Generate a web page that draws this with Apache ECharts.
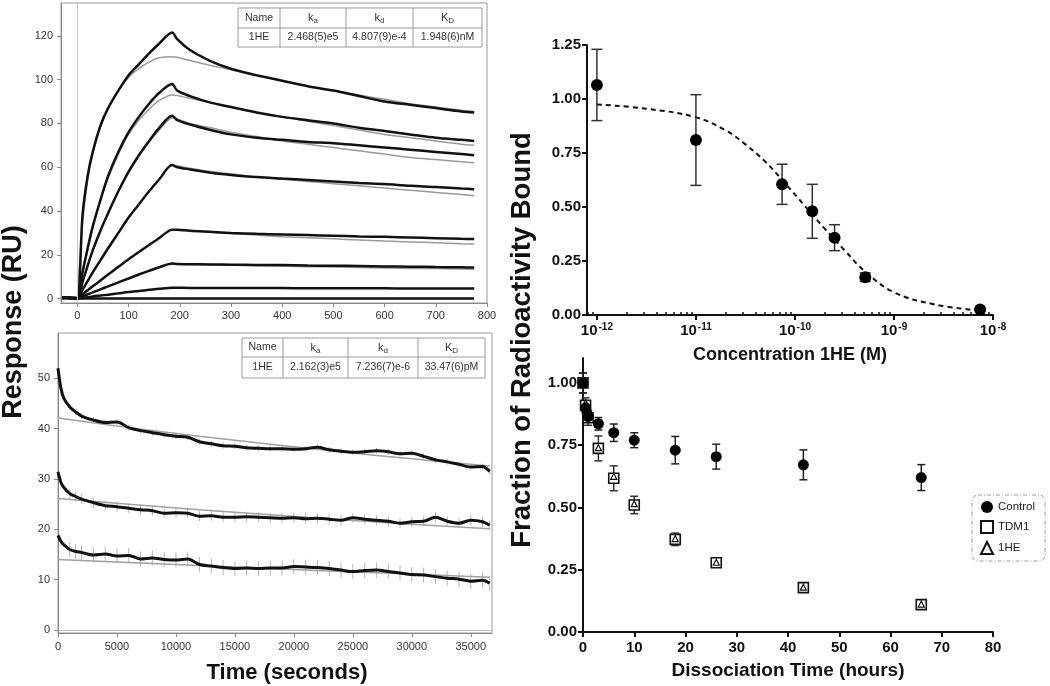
<!DOCTYPE html>
<html><head><meta charset="utf-8">
<script src="https://cdn.jsdelivr.net/npm/echarts@6/dist/echarts.min.js"></script>
<style>html,body{margin:0;padding:0;background:#fff}#c{width:1050px;height:686px}</style>
</head><body><div id="c"></div>
<script>
// ---------- Panel A: SPR sensorgrams (Response RU vs time s) ----------
const timeA = [-30,-10,0,10,20,30,45,60,80,100,120,140,160,185,195,220,260,300,350,400,450,500,550,600,650,700,750,775];
const respA1 = [0.5,0.3,0.2,38,56,67,79,87,95,102,107,112,116.5,121.5,118.5,113.5,108.5,105,102,99.5,97,95,92.5,90,88.5,87,85.5,85];
const respA2 = [0.5,0.3,0.2,12,23,33,45,56,67,76,83,89,94,98,95,92.5,89.5,87.5,85,83,81.5,80,78,76.5,75,73.5,72.5,72];
const respA3 = [0.5,0.3,0.2,7.5,15,22,31,39,49,58,65.5,72,78,83.5,81.5,79.5,77,75,73.5,72.5,71.5,71,70,69,68,67,66,65.5];
const respA4 = [0.4,0.3,0.2,4,8,12,17.5,23,30,37,43,49,54.5,61,60,59,57.5,56.5,55.5,54.8,54.2,53.5,52.8,52.3,51.5,51,50.3,50];
const respA5 = [0.3,0.3,0.2,2,3.8,5.6,8.3,11,14.5,18,21.3,24.5,27.7,31.5,31.5,31,30.5,30,29.6,29.3,29,28.7,28.4,28.2,27.9,27.6,27.3,27.2];
const respA6 = [0.3,0.2,0.1,1,2,2.9,4.2,5.6,7.4,9.2,11,12.7,14.3,16,15.8,15.7,15.6,15.5,15.4,15.3,15.1,15,14.9,14.7,14.6,14.4,14.3,14.2];
const respA7 = [0.3,0.2,0.1,0.3,0.6,1,1.4,1.8,2.4,3,3.5,4,4.5,5,5,4.9,4.9,4.8,4.8,4.8,4.7,4.7,4.7,4.7,4.6,4.6,4.6,4.6];
const respA8 = [0.3,0.2,0,0,0,0,0,0,0,0,0,0,0,0,0,0,0,0,0,0,0,0,0,0,0,0,0,0];
const fitA1 = [null,null,0,34,54,66,78,87,95,101,105,108,110,110.5,110.2,108.7,106.5,104.5,102,99.5,97,95,93,91,89,87.5,86,85.5];
const fitA2 = [null,null,0,11,22,32,45,55,66,75,81.5,86.5,90.5,93,92.7,91.5,89.5,87.5,85,83,81,79,77,75,73.5,72,70.5,70];
const fitA3 = [null,null,0,7.5,15,22,31,39,49,57.5,65,71.5,77,82.5,82,80,78,76,74,72,70.5,69,67.5,66,64.5,63.5,62.5,62];
const fitA4 = [null,null,0,4,8,12,17.5,23,30,37,43,49,54.5,61,60.7,59.5,58,57,55.5,54.5,53.5,52.5,51.5,50.5,49.5,48.5,47.5,47];
const fitA5 = [null,null,0,2,3.8,5.6,8.3,11,14.5,18,21.3,24.5,27.7,31.3,31.2,31,30.3,29.7,29,28.3,27.8,27.3,26.8,26.3,25.9,25.5,25.1,25];
const fitA6 = [null,null,0,1,2,2.9,4.2,5.6,7.4,9.2,11,12.7,14.3,15.8,15.7,15.6,15.4,15.2,15,14.8,14.6,14.4,14.2,14,13.8,13.7,13.5,13.4];
const ticksAx = [0,100,200,300,400,500,600,700,800];
const ticksAy = [0,20,40,60,80,100,120];
const tableAHead = ['Name','{i|k}{s|a}','{i|k}{s|d}','{i|K}{s|D}'];
const tableARow = ['1HE','2.468(5)e5','4.807(9)e-4','1.948(6)nM'];

// ---------- Panel B: long dissociation ----------
const timeB = [0,250,500,1000,1500,2000,3000,4000,5000,6000,7000,8000,9000,10000,11000,12000,13000,14000,15000,16000,17000,18000,19000,20000,21000,22000,23000,24000,25000,26000,27000,28000,29000,30000,31000,32000,33000,34000,35000,36000,36600];
const respB1 = [52,48,46,44.3,43.3,42.5,41.7,41.2,41.3,40.2,39.6,39.2,38.8,38.5,38.3,37.4,37,36.6,36.5,36.2,36.1,36,36,35.9,36,36.3,35.8,35.5,35.3,35.4,35.6,35.4,35,35.1,34.5,33.8,33.4,32.9,32.4,32.5,31.5];
const respB2 = [31.4,29.3,28.3,27.1,26.5,26,25.3,24.7,24.5,24.2,23.9,23.7,23.2,23.3,23.2,22.6,22.7,22.4,22.4,22.5,22.4,22.3,22.2,22.3,22.1,22.2,22,21.8,22.3,22,21.8,21.6,21.2,21.5,21.6,22.4,21.6,21.2,21.8,21.5,20.8];
const respB3 = [18.8,17.6,16.9,16,15.6,15.4,14.9,15.1,14.7,14.8,14.1,14.3,14,13.9,14.1,13,12.7,12.4,12.2,12.3,12.2,12.3,12.3,12.6,12.5,12.4,12.2,11.9,11.6,11.8,11.9,11.6,11.3,11,10.9,10.6,10.3,10.1,9.7,9.9,9.3];
const timeFitB = [0,6000,12000,18000,24000,30000,36600];
const fitB1 = [42.1,40.2,38.5,36.9,35.4,34.0,32.6];
const fitB2 = [26.1,25.0,23.9,22.9,21.9,21.0,20.1];
const fitB3 = [14.0,13.4,12.8,12.2,11.6,11.1,10.5];
const errB = [0.6,1.0,1.5];
const ticksBx = [0,5000,10000,15000,20000,25000,30000,35000];
const ticksBy = [0,10,20,30,40,50];
const tableBHead = ['Name','{i|k}{s|a}','{i|k}{s|d}','{i|K}{s|D}'];
const tableBRow = ['1HE','2.162(3)e5','7.236(7)e-6','33.47(6)pM'];

// ---------- Panel C: competition binding ----------
const logConcC = [-12,-11,-10.13,-9.825,-9.6,-9.29,-8.13];
const boundC = [1.065,0.81,0.605,0.48,0.358,0.175,0.026];
const semC = [0.165,0.21,0.093,0.125,0.06,0.02,0];
const fitLogConcC = [-12,-11.5,-11,-10.7,-10.5,-10.3,-10.1,-9.9,-9.7,-9.5,-9.3,-9,-8.6,-8.13];
const fitBoundC = [0.975,0.955,0.915,0.855,0.79,0.71,0.61,0.505,0.40,0.30,0.205,0.105,0.05,0.02];
const ticksCx = [-12,-11,-10,-9,-8];
const ticksCy = [0,0.25,0.5,0.75,1,1.25];

// ---------- Panel D: dissociation over hours ----------
const timeD = [0,0.5,1,3,6,10,18,26,43,66];
const controlD = [1.00,0.90,0.865,0.836,0.80,0.77,0.73,0.704,0.671,0.62];
const controlErrD = [0.04,0.02,0.02,0.025,0.035,0.03,0.055,0.05,0.06,0.052];
const tdm1D = [1.00,0.91,0.86,0.737,0.617,0.51,0.372,0.278,0.178,0.11];
const tdm1ErrD = [0.04,0.03,0.03,0.05,0.05,0.035,0.025,0.012,0.012,0.01];
const he1D = [1.00,0.92,0.87,0.74,0.625,0.515,0.375,0.28,0.18,0.112];
const he1ErrD = [0.03,0.03,0.03,0.04,0.045,0.03,0.02,0.01,0.01,0.01];
const ticksDx = [0,10,20,30,40,50,60,70,80];
const ticksDy = [0,0.25,0.5,0.75,1];
const legendD = ['Control','TDM1','1HE'];

// ---------- build ----------
const FONT = 'Liberation Sans, Arial, sans-serif';
const zip = (xs, ys) => xs.map((x, i) => [x, ys[i]]);

function errBar(xi, yi, rows, color, cap, lw, z) {
  return {
    type: 'custom', xAxisIndex: xi, yAxisIndex: yi, silent: true, z: z,
    encode: {x: 0, y: [1, 2]}, data: rows,
    renderItem(params, api) {
      const x = api.value(0), lo = api.value(1), hi = api.value(2);
      const a = api.coord([x, lo]), b = api.coord([x, hi]);
      const st = {stroke: color, lineWidth: lw, fill: null};
      const ch = [{type: 'line', shape: {x1: a[0], y1: a[1], x2: b[0], y2: b[1]}, style: st}];
      if (cap > 0) {
        ch.push({type: 'line', shape: {x1: a[0]-cap/2, y1: a[1], x2: a[0]+cap/2, y2: a[1]}, style: st});
        ch.push({type: 'line', shape: {x1: b[0]-cap/2, y1: b[1], x2: b[0]+cap/2, y2: b[1]}, style: st});
      }
      return {type: 'group', children: ch};
    }
  };
}

const lightAxis = (grid, min, max, ticks, margin) => ({
  type: 'value', gridIndex: grid, min: min, max: max,
  axisLine: {show: true, onZero: false, lineStyle: {color: '#888', width: 1}},
  axisTick: {show: true, inside: false, length: 4, customValues: ticks, lineStyle: {color: '#888'}},
  axisLabel: {customValues: ticks, fontSize: 11, color: '#333', fontFamily: FONT, margin: margin, formatter: v => String(v)},
  splitLine: {show: false}
});
const boldAxis = (grid, min, max, ticks, margin, fmt) => ({
  type: 'value', gridIndex: grid, min: min, max: max,
  axisLine: {show: true, onZero: false, lineStyle: {color: '#111', width: 2}},
  axisTick: {show: true, inside: false, length: 5, customValues: ticks, lineStyle: {color: '#111', width: 2}},
  axisLabel: {customValues: ticks, fontSize: 15, fontWeight: 'bold', color: '#111', fontFamily: FONT, margin: margin, formatter: fmt || (v => String(v))},
  splitLine: {show: false}
});

const minorC = [];
for (let d = -13; d <= -9; d++) for (let k = 2; k <= 9; k++) {
  const v = d + Math.log10(k);
  if (v > -12.1 && v < -8) minorC.push(v);
}

const series = [];
// Panel A
const respA = [respA1, respA2, respA3, respA4, respA5, respA6, respA7, respA8];
const fitA = [fitA1, fitA2, fitA3, fitA4, fitA5, fitA6];
fitA.forEach(f => series.push({type: 'line', xAxisIndex: 0, yAxisIndex: 0, data: zip(timeA, f), showSymbol: false, smooth: 0.3, lineStyle: {color: '#9a9a9a', width: 1.5}, z: 2, silent: true}));
respA.forEach((r, i) => series.push({type: 'line', xAxisIndex: 0, yAxisIndex: 0, data: zip(timeA, r), showSymbol: false, smooth: 0.3, lineStyle: {color: '#111', width: 2.5}, z: 3, silent: true,
  markLine: i === 0 ? {silent: true, symbol: 'none', label: {show: false}, lineStyle: {color: '#c8c8c8', width: 1, type: 'solid'}, data: [{xAxis: 0}]} : undefined}));
// Panel B
const respB = [respB1, respB2, respB3];
const fitB = [fitB1, fitB2, fitB3];
respB.forEach((r, i) => series.push(errBar(1, 1, timeB.slice(3).map((t, j) => [t, r[j+3]-errB[i], r[j+3]+errB[i]]), '#b5b5b5', 0, 1, 1)));
fitB.forEach(f => series.push({type: 'line', xAxisIndex: 1, yAxisIndex: 1, data: zip(timeFitB, f), showSymbol: false, smooth: 0.3, lineStyle: {color: '#a0a0a0', width: 1.5}, z: 2, silent: true}));
respB.forEach((r, i) => series.push({type: 'line', xAxisIndex: 1, yAxisIndex: 1, data: zip(timeB, r), showSymbol: false, smooth: 0.3, lineStyle: {color: '#111', width: 3}, z: 3, silent: true,
  markLine: i === 0 ? {silent: true, symbol: 'none', label: {show: false}, lineStyle: {color: '#c0c0c0', width: 1, type: 'solid'}, data: [{yAxis: 0}]} : undefined}));
// Panel C
series.push({type: 'line', xAxisIndex: 2, yAxisIndex: 2, data: zip(fitLogConcC, fitBoundC), showSymbol: false, smooth: 0.4, lineStyle: {color: '#111', width: 2, type: [5, 4]}, z: 2, silent: true});
series.push(errBar(2, 2, logConcC.map((x, i) => [x, boundC[i]-semC[i], boundC[i]+semC[i]]), '#333', 11, 1.5, 3));
series.push({type: 'scatter', xAxisIndex: 2, yAxisIndex: 2, data: zip(logConcC, boundC), symbol: 'circle', symbolSize: 12, itemStyle: {color: '#000', opacity: 1}, z: 4, silent: true});
// Panel D
series.push(errBar(4, 3, timeD.map((t, i) => [t, tdm1D[i]-tdm1ErrD[i], tdm1D[i]+tdm1ErrD[i]]), '#333', 8, 1.5, 3));
series.push(errBar(4, 3, timeD.map((t, i) => [t, controlD[i]-controlErrD[i], controlD[i]+controlErrD[i]]), '#222', 8, 1.5, 3));
series.push({name: 'TDM1', type: 'scatter', xAxisIndex: 4, yAxisIndex: 3, data: zip(timeD, tdm1D), symbol: 'rect', symbolSize: 10, itemStyle: {color: '#fff', borderColor: '#111', borderWidth: 1.6, opacity: 1}, z: 4, silent: true});
series.push({name: '1HE', type: 'scatter', xAxisIndex: 4, yAxisIndex: 3, data: zip(timeD, he1D), symbol: 'triangle', symbolSize: 6, itemStyle: {color: '#fff', borderColor: '#111', borderWidth: 1.2, opacity: 1}, z: 5, silent: true});
series.push({name: 'Control', type: 'scatter', xAxisIndex: 4, yAxisIndex: 3, data: zip(timeD, controlD), symbol: 'circle', symbolSize: 11, itemStyle: {color: '#000', opacity: 1}, z: 6, silent: true});

// tables
function table(cols, rows3, head, row) {
  const g = [];
  const [x0, x1] = [cols[0], cols[cols.length-1]];
  const [y0, ym, y1] = rows3;
  const ls = {stroke: '#9a9a9a', lineWidth: 1};
  g.push({type: 'rect', shape: {x: x0, y: y0, width: x1-x0, height: y1-y0}, style: {fill: '#fff', stroke: '#9a9a9a', lineWidth: 1}, z: 50});
  g.push({type: 'line', shape: {x1: x0, y1: ym, x2: x1, y2: ym}, style: ls, z: 51});
  for (let i = 1; i < cols.length-1; i++) g.push({type: 'line', shape: {x1: cols[i], y1: y0, x2: cols[i], y2: y1}, style: ls, z: 51});
  const rich = {i: {fontSize: 11, fill: '#333', fontFamily: FONT, lineHeight: 14}, s: {fontSize: 8, fill: '#333', fontFamily: FONT, lineHeight: 14, verticalAlign: 'bottom', padding: [4, 0, 0, 0]}};
  for (let i = 0; i < cols.length-1; i++) {
    const cx = (cols[i] + cols[i+1]) / 2;
    g.push({type: 'text', x: cx, y: (y0+ym)/2, z: 52, style: {text: head[i], rich: rich, fontSize: 10.5, fill: '#333', fontFamily: FONT, align: 'center', verticalAlign: 'middle'}});
    g.push({type: 'text', x: cx, y: (ym+y1)/2, z: 52, style: {text: row[i], fontSize: 10.5, fill: '#333', fontFamily: FONT, align: 'center', verticalAlign: 'middle'}});
  }
  return g;
}
const titleStyle = (t, size) => ({text: t, fontSize: size, fontWeight: 'bold', fill: '#111', fontFamily: FONT, align: 'center', verticalAlign: 'middle'});
const graphics = [].concat(
  table([238, 280, 346, 413, 482], [8, 28, 47], tableAHead, tableARow),
  table([242, 283, 348, 418, 485], [338, 357, 378], tableBHead, tableBRow),
  [
    {type: 'text', x: 14, y: 322, rotation: Math.PI/2, style: titleStyle('Response (RU)', 27)},
    {type: 'text', x: 287, y: 673, style: titleStyle('Time (seconds)', 22)},
    {type: 'text', x: 522, y: 340, rotation: Math.PI/2, style: titleStyle('Fraction of Radioactivity Bound', 27.5)},
    {type: 'text', x: 790, y: 355, style: titleStyle('Concentration 1HE (M)', 18)},
    {type: 'text', x: 788, y: 671, style: titleStyle('Dissociation Time (hours)', 19)}
  ]
);

const option = {
  animation: false,
  backgroundColor: '#fff',
  grid: [
    {left: 61, top: 3, width: 426, height: 300, show: true, borderColor: '#999', borderWidth: 1},
    {left: 58, top: 333, width: 434, height: 300, show: true, borderColor: '#999', borderWidth: 1},
    {left: 587, top: 45, width: 406, height: 270},
    {left: 583, top: 358, width: 410, height: 274}
  ],
  xAxis: [
    lightAxis(0, -32, 800, ticksAx, 7),
    lightAxis(1, 0, 36800, ticksBx, 8),
    boldAxis(2, -12.1, -8, ticksCx, 7, v => '{b|10}{s|' + Math.round(v) + '}'),
    {type: 'value', gridIndex: 2, min: -12.1, max: -8, axisLine: {show: false}, splitLine: {show: false}, axisLabel: {show: false},
     axisTick: {show: true, length: 3, customValues: minorC, lineStyle: {color: '#111', width: 1.5}}},
    boldAxis(3, 0, 80, ticksDx, 8)
  ],
  yAxis: [
    lightAxis(0, -2, 135, ticksAy, 8),
    lightAxis(1, -0.6, 59, ticksBy, 8),
    boldAxis(2, 0, 1.25, ticksCy, 6, v => v.toFixed(2)),
    boldAxis(3, 0, 1.1, ticksDy, 6, v => v.toFixed(2))
  ],
  legend: {
    data: legendD, orient: 'vertical', left: 972, top: 495,
    itemWidth: 12, itemHeight: 12, itemGap: 7, padding: [6, 10, 6, 8],
    borderColor: '#999', borderWidth: 1, borderRadius: 6, borderType: [4, 2, 1, 2],
    textStyle: {fontSize: 11.5, color: '#222', fontFamily: FONT}
  },
  series: series,
  graphic: graphics
};
// rich styles for superscript labels in panel C
option.xAxis[2].axisLabel.rich = {
  b: {fontSize: 15, fontWeight: 'bold', color: '#111', fontFamily: FONT, lineHeight: 18},
  s: {fontSize: 10, fontWeight: 'bold', color: '#111', fontFamily: FONT, lineHeight: 18, verticalAlign: 'top', padding: [0, 0, 6, 1]}
};
const chart = echarts.init(document.getElementById('c'), null, {renderer: 'canvas'});
chart.setOption(option);
</script></body></html>
